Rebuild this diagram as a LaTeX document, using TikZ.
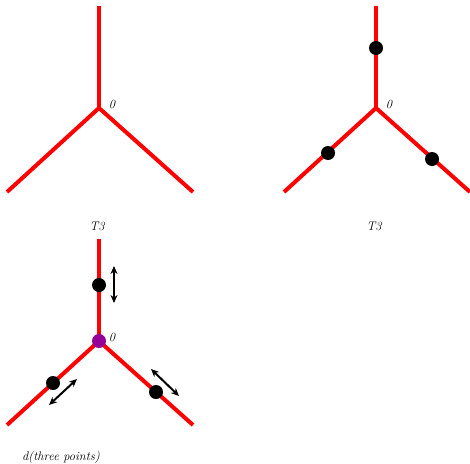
\documentclass[tikz,border=0pt]{standalone}
\usetikzlibrary{arrows.meta}
\definecolor{purp}{RGB}{150,0,150}
\begin{document}
\begin{tikzpicture}[x=1pt,y=-1pt,
  leg/.style={draw=red,line width=4pt},
  dot/.style={circle,fill=black,minimum size=14pt,inner sep=0pt},
  pdot/.style={circle,fill=purp,minimum size=14pt,inner sep=0pt},
  lbl/.style={font=\fontsize{12.5}{14}\selectfont\itshape,inner sep=0pt},
  dbl/.style={{Stealth[length=8pt,width=7pt]}-{Stealth[length=8pt,width=7pt]},line width=2pt,black}]
\useasboundingbox (0,0) rectangle (470,463);
% top-left tree
\coordinate (a0) at (99,108);
\coordinate (a1) at (99,6);
\coordinate (a2) at (7,192);
\coordinate (a3) at (193,192);
\draw[leg] (a0) -- (a1);
\draw[leg] (a0) -- (a2);
\draw[leg] (a0) -- (a3);
\node[lbl] (la) at (112,104) {0};
\node[lbl] (ta) at (97,226) {T3};
% top-right tree
\coordinate (b0) at (376,108);
\coordinate (b1) at (376,6);
\coordinate (b2) at (284,192);
\coordinate (b3) at (470,192);
\draw[leg] (b0) -- (b1);
\draw[leg] (b0) -- (b2);
\draw[leg] (b0) -- (b3);
\node[dot] (bd1) at (376,48) {};
\node[dot] (bd2) at (328,153) {};
\node[dot] (bd3) at (432,159) {};
\node[lbl] (lb) at (389,104) {0};
\node[lbl] (tb) at (374,226) {T3};
% bottom tree
\coordinate (c0) at (99,341);
\coordinate (c1) at (99,239);
\coordinate (c2) at (7,425);
\coordinate (c3) at (193,425);
\draw[leg] (c0) -- (c1);
\draw[leg] (c0) -- (c2);
\draw[leg] (c0) -- (c3);
\node[dot] (cd1) at (99,285) {};
\node[dot] (cd2) at (53,383) {};
\node[dot] (cd3) at (156,392) {};
\node[pdot] (cc) at (99,341) {};
\node[lbl] (lc) at (112,337) {0};
\coordinate (v1) at (114,266);
\coordinate (v2) at (114,303);
\draw[dbl] (v1) -- (v2);
\coordinate (l1) at (49,405);
\coordinate (l2) at (77,379);
\draw[dbl] (l1) -- (l2);
\coordinate (r1) at (151,369);
\coordinate (r2) at (179,396);
\draw[dbl] (r1) -- (r2);
\node[lbl] (td) at (61,457) {d(three points)};
\end{tikzpicture}
\end{document}
